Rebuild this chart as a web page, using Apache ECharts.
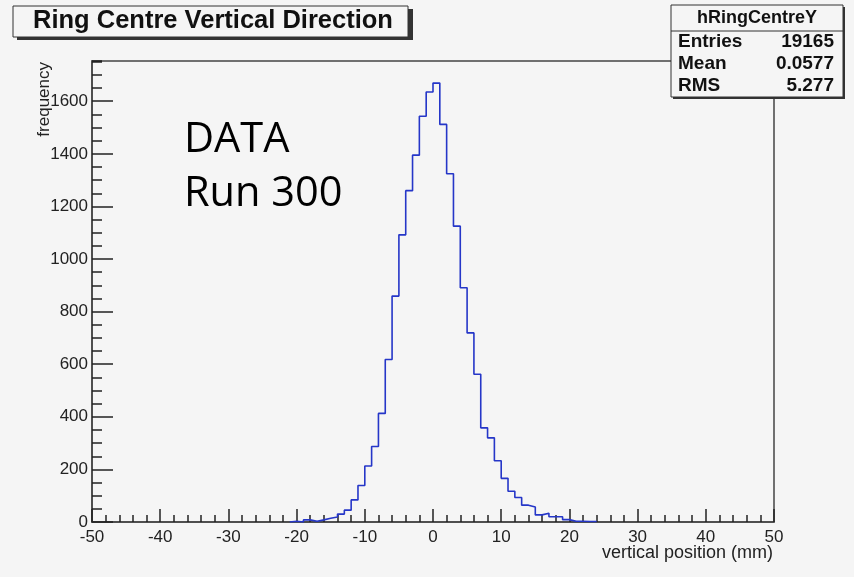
<!DOCTYPE html>
<html>
<head>
<meta charset="utf-8">
<script src="https://cdn.jsdelivr.net/npm/echarts@6/dist/echarts.min.js"></script>
<style>
html, body { margin: 0; padding: 0; background: #f5f5f5; }
#chart { width: 854px; height: 577px; }
</style>
</head>
<body>
<div id="chart"></div>
<script>
// histogram: bins of 1 mm, first bin starts at -21 mm
const binStart = -21;
const binWidth = 1;
const counts = [3, 0, 8, 3, 8, 14, 19, 30, 45, 84, 139, 213, 287, 413, 618, 859, 1092, 1260, 1395,
  1543, 1635, 1669, 1512, 1324, 1125, 891, 719, 562, 358, 320, 233, 166, 117, 93, 64, 57, 27, 33,
  20, 20, 9, 3, 3, 2, 2];

// axis ranges
const xMin = -50, xMax = 50, xStep = 10;
const yMax = 1753, yStep = 200, yMinorStep = 50;

// stats box
const statsName = 'hRingCentreY';
const statsLabels = ['Entries', 'Mean', 'RMS'];
const statsValues = ['19165', '0.0577', '5.277'];

const font = 'Liberation Sans';

// step line points: each bin's low edge with its count, closed at both ends
let histData = [[binStart, 0]];
counts.forEach((c, i) => histData.push([binStart + i * binWidth, c]));
histData.push([binStart + counts.length * binWidth, 0]);

let myChart = echarts.init(document.getElementById('chart'));

let graphics = [
  // title box with shadow
  { type: 'rect', shape: { x: 17, y: 9, width: 396, height: 31 }, style: { fill: '#333' } },
  { type: 'rect', shape: { x: 13, y: 6, width: 395, height: 31 }, style: { fill: '#f5f5f5', stroke: '#333', lineWidth: 1 } },
  { type: 'text', x: 33, y: 21, style: { text: 'Ring Centre Vertical Direction', font: 'bold 25.5px ' + font, fill: '#111', textAlign: 'left', textVerticalAlign: 'middle' } },
  // stats box
  { type: 'rect', shape: { x: 673, y: 7, width: 172, height: 92 }, style: { fill: '#333' } },
  { type: 'rect', shape: { x: 671, y: 5, width: 172, height: 92 }, style: { fill: '#f5f5f5', stroke: '#333', lineWidth: 1 } },
  { type: 'line', shape: { x1: 671, y1: 31, x2: 843, y2: 31 }, style: { stroke: '#333', lineWidth: 1 } },
  { type: 'text', x: 757, y: 18, style: { text: statsName, font: 'bold 18px ' + font, fill: '#111', textAlign: 'center', textVerticalAlign: 'middle' } },
  // axis titles
  { type: 'text', x: 44, y: 62, rotation: Math.PI / 2, style: { text: 'frequency', font: '17px ' + font, fill: '#222', textAlign: 'right', textVerticalAlign: 'middle' } },
  { type: 'text', x: 773, y: 553, style: { text: 'vertical position (mm)', font: '18px ' + font, fill: '#222', textAlign: 'right', textVerticalAlign: 'middle' } },
  // annotation
  { type: 'text', x: 184, y: 140, style: { text: 'DATA', font: '41.5px "Open Sans", sans-serif', fill: '#000', textAlign: 'left', textVerticalAlign: 'middle' } },
  { type: 'text', x: 184, y: 194, style: { text: 'Run 300', font: '41.5px "Open Sans", sans-serif', fill: '#000', textAlign: 'left', textVerticalAlign: 'middle' } }
];
statsLabels.forEach((lab, i) => {
  let y = 42 + i * 22;
  graphics.push({ type: 'text', x: 678, y: y, style: { text: lab, font: 'bold 19px ' + font, fill: '#111', textAlign: 'left', textVerticalAlign: 'middle' } });
  graphics.push({ type: 'text', x: 834, y: y, style: { text: statsValues[i], font: 'bold 19px ' + font, fill: '#111', textAlign: 'right', textVerticalAlign: 'middle' } });
});

const option = {
  animation: false,
  backgroundColor: '#f5f5f5',
  grid: {
    left: 92, right: 80, top: 61, bottom: 55,
    show: true, borderColor: '#444', borderWidth: 1.5,
    containLabel: false, outerBoundsMode: 'none'
  },
  xAxis: {
    type: 'value',
    min: xMin, max: xMax, interval: xStep,
    axisLine: { show: true, onZero: false, lineStyle: { color: '#444', width: 1.5 } },
    axisTick: { show: true, inside: true, length: 13, lineStyle: { color: '#222', width: 1.5 } },
    minorTick: { show: true, splitNumber: 5, length: 7, lineStyle: { color: '#222', width: 1.5 } },
    axisLabel: { margin: 7, fontSize: 17, color: '#222', fontFamily: font },
    splitLine: { show: false }
  },
  yAxis: [
    {
      type: 'value',
      min: 0, max: yMax, interval: yStep,
      axisLine: { show: true, onZero: false, lineStyle: { color: '#444', width: 1.5 } },
      axisTick: { show: true, inside: true, length: 21, lineStyle: { color: '#222', width: 1.5 } },
      axisLabel: { margin: 4, fontSize: 17, color: '#222', fontFamily: font, showMaxLabel: false, formatter: v => String(v) },
      splitLine: { show: false }
    },
    {
      // minor ticks only
      type: 'value', position: 'left',
      min: 0, max: yMax, interval: yMinorStep,
      axisLine: { show: false, onZero: false },
      axisTick: { show: true, inside: true, length: 10, lineStyle: { color: '#222', width: 1.5 } },
      axisLabel: { show: false },
      splitLine: { show: false }
    }
  ],
  series: [
    {
      type: 'line',
      step: 'end',
      data: histData,
      showSymbol: false,
      lineStyle: { color: '#2536c8', width: 1.6 },
      z: 3
    }
  ],
  graphic: graphics
};
myChart.setOption(option);
</script>
</body>
</html>
